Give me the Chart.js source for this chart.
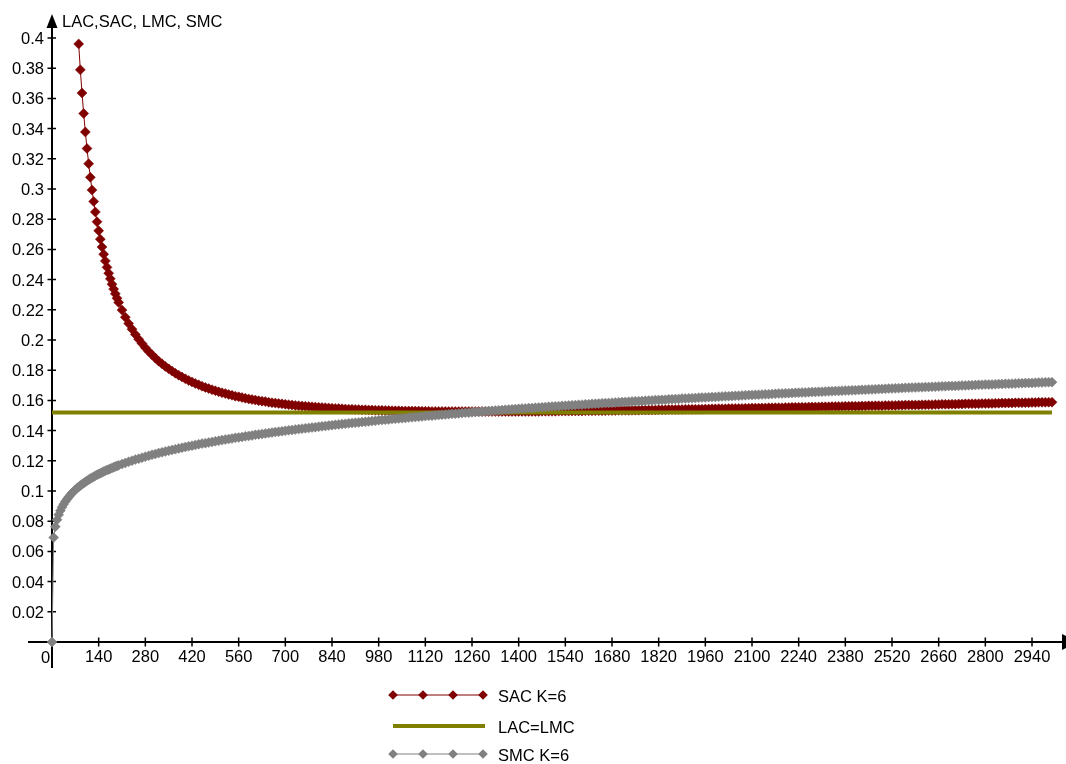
<!DOCTYPE html>
<html>
<head>
<meta charset="utf-8">
<script src="https://cdn.jsdelivr.net/npm/chart.js@4.4.1/dist/chart.umd.min.js"></script>
<style>
  html, body { margin: 0; padding: 0; background: #ffffff; }
  canvas { display: block; }
</style>
</head>
<body>
<canvas id="costChart" width="1066" height="764"></canvas>
<script>
// Output levels (Q) shared by the short-run curves
const output = [
  0,5,10,15,20,25,30,35,40,45,
  50,55,60,65,70,75,80,85,90,95,
  100,105,110,115,120,125,130,135,140,145,
  150,155,160,165,170,175,180,185,190,195,
  200,
  210,220,230,240,250,260,270,280,290,300,
  310,320,330,340,350,360,370,380,390,400,
  410,420,430,440,450,460,470,480,490,500,
  510,520,530,540,550,560,570,580,590,600,
  610,620,630,640,650,660,670,680,690,700,
  710,720,730,740,750,760,770,780,790,800,
  810,820,830,840,850,860,870,880,890,900,
  910,920,930,940,950,960,970,980,990,1000,
  1010,1020,1030,1040,1050,1060,1070,1080,1090,1100,
  1110,1120,1130,1140,1150,1160,1170,1180,1190,1200,
  1210,1220,1230,1240,1250,1260,1270,1280,1290,1300,
  1310,1320,1330,1340,1350,1360,1370,1380,1390,1400,
  1410,1420,1430,1440,1450,1460,1470,1480,1490,1500,
  1510,1520,1530,1540,1550,1560,1570,1580,1590,1600,
  1610,1620,1630,1640,1650,1660,1670,1680,1690,1700,
  1710,1720,1730,1740,1750,1760,1770,1780,1790,1800,
  1810,1820,1830,1840,1850,1860,1870,1880,1890,1900,
  1910,1920,1930,1940,1950,1960,1970,1980,1990,2000,
  2010,2020,2030,2040,2050,2060,2070,2080,2090,2100,
  2110,2120,2130,2140,2150,2160,2170,2180,2190,2200,
  2210,2220,2230,2240,2250,2260,2270,2280,2290,2300,
  2310,2320,2330,2340,2350,2360,2370,2380,2390,2400,
  2410,2420,2430,2440,2450,2460,2470,2480,2490,2500,
  2510,2520,2530,2540,2550,2560,2570,2580,2590,2600,
  2610,2620,2630,2640,2650,2660,2670,2680,2690,2700,
  2710,2720,2730,2740,2750,2760,2770,2780,2790,2800,
  2810,2820,2830,2840,2850,2860,2870,2880,2890,2900,
  2910,2920,2930,2940,2950,2960,2970,2980,2990,3000
];

// Short-run average cost with K=6 (no point below Q=80, it lies above the plot)
const sacK6 = [
  null,null,null,null,null,null,null,null,null,null,
  null,null,null,null,null,null,0.3961,0.3789,0.3636,0.3500,
  0.3378,0.3268,0.3168,0.3077,0.2994,0.2918,0.2848,0.2783,0.2724,0.2668,
  0.2616,0.2568,0.2524,0.2481,0.2442,0.2405,0.2370,0.2337,0.2306,0.2277,
  0.2249,
  0.2198,0.2151,0.2109,0.2072,0.2037,0.2005,0.1976,0.1949,0.1924,0.1902,
  0.1880,0.1860,0.1842,0.1825,0.1809,0.1794,0.1780,0.1767,0.1755,0.1743,
  0.1732,0.1722,0.1712,0.1703,0.1694,0.1686,0.1678,0.1671,0.1664,0.1657,
  0.1651,0.1645,0.1639,0.1634,0.1628,0.1624,0.1619,0.1614,0.1610,0.1606,
  0.1602,0.1598,0.1595,0.1592,0.1588,0.1585,0.1582,0.1580,0.1577,0.1574,
  0.1572,0.1570,0.1567,0.1565,0.1563,0.1561,0.1559,0.1558,0.1556,0.1554,
  0.1553,0.1551,0.1550,0.1548,0.1547,0.1546,0.1545,0.1543,0.1542,0.1541,
  0.1540,0.1539,0.1538,0.1538,0.1537,0.1536,0.1535,0.1535,0.1534,0.1533,
  0.1533,0.1532,0.1531,0.1531,0.1530,0.1530,0.1530,0.1529,0.1529,0.1529,
  0.1528,0.1528,0.1528,0.1527,0.1527,0.1527,0.1527,0.1527,0.1526,0.1526,
  0.1526,0.1526,0.1526,0.1526,0.1526,0.1526,0.1526,0.1526,0.1526,0.1526,
  0.1526,0.1526,0.1526,0.1526,0.1526,0.1526,0.1526,0.1526,0.1526,0.1527,
  0.1527,0.1527,0.1527,0.1527,0.1527,0.1527,0.1528,0.1528,0.1528,0.1528,
  0.1528,0.1529,0.1529,0.1529,0.1529,0.1530,0.1530,0.1530,0.1530,0.1531,
  0.1531,0.1531,0.1531,0.1532,0.1532,0.1532,0.1533,0.1533,0.1533,0.1534,
  0.1534,0.1534,0.1534,0.1535,0.1535,0.1535,0.1536,0.1536,0.1536,0.1537,
  0.1537,0.1538,0.1538,0.1538,0.1539,0.1539,0.1539,0.1540,0.1540,0.1541,
  0.1541,0.1541,0.1542,0.1542,0.1542,0.1543,0.1543,0.1544,0.1544,0.1545,
  0.1545,0.1545,0.1546,0.1546,0.1547,0.1547,0.1547,0.1548,0.1548,0.1549,
  0.1549,0.1549,0.1550,0.1550,0.1551,0.1551,0.1552,0.1552,0.1552,0.1553,
  0.1553,0.1554,0.1554,0.1555,0.1555,0.1555,0.1556,0.1556,0.1557,0.1557,
  0.1558,0.1558,0.1558,0.1559,0.1559,0.1560,0.1560,0.1561,0.1561,0.1562,
  0.1562,0.1562,0.1563,0.1563,0.1564,0.1564,0.1565,0.1565,0.1565,0.1566,
  0.1566,0.1567,0.1567,0.1568,0.1568,0.1569,0.1569,0.1570,0.1570,0.1570,
  0.1571,0.1571,0.1572,0.1572,0.1573,0.1573,0.1574,0.1574,0.1574,0.1575,
  0.1575,0.1576,0.1576,0.1577,0.1577,0.1578,0.1578,0.1578,0.1579,0.1579,
  0.1580,0.1580,0.1581,0.1581,0.1582,0.1582,0.1583,0.1583,0.1584,0.1584,
  0.1584,0.1585,0.1585,0.1586,0.1586,0.1587,0.1587,0.1587,0.1588,0.1588
];

// Short-run marginal cost with K=6
const smcK6 = [
  0,0.0692,0.0764,0.0809,0.0843,0.0870,0.0893,0.0913,0.0930,0.0946,
  0.0960,0.0974,0.0986,0.0997,0.1008,0.1018,0.1027,0.1036,0.1044,0.1052,
  0.1060,0.1068,0.1075,0.1082,0.1088,0.1094,0.1101,0.1107,0.1112,0.1118,
  0.1123,0.1129,0.1134,0.1139,0.1143,0.1148,0.1153,0.1157,0.1162,0.1166,
  0.1170,
  0.1178,0.1186,0.1194,0.1201,0.1208,0.1214,0.1221,0.1227,0.1233,0.1240,
  0.1245,0.1251,0.1256,0.1262,0.1267,0.1272,0.1277,0.1282,0.1287,0.1292,
  0.1296,0.1300,0.1305,0.1309,0.1314,0.1317,0.1321,0.1325,0.1329,0.1333,
  0.1337,0.1341,0.1344,0.1348,0.1352,0.1355,0.1358,0.1362,0.1365,0.1368,
  0.1372,0.1375,0.1378,0.1381,0.1384,0.1387,0.1390,0.1393,0.1396,0.1399,
  0.1402,0.1404,0.1407,0.1410,0.1413,0.1415,0.1418,0.1421,0.1423,0.1426,
  0.1428,0.1431,0.1433,0.1436,0.1438,0.1441,0.1443,0.1445,0.1448,0.1450,
  0.1452,0.1454,0.1457,0.1459,0.1461,0.1463,0.1465,0.1468,0.1470,0.1472,
  0.1474,0.1476,0.1478,0.1480,0.1482,0.1484,0.1486,0.1488,0.1490,0.1492,
  0.1494,0.1496,0.1498,0.1499,0.1501,0.1503,0.1505,0.1507,0.1509,0.1511,
  0.1512,0.1514,0.1516,0.1518,0.1519,0.1521,0.1523,0.1524,0.1526,0.1528,
  0.1530,0.1531,0.1533,0.1534,0.1536,0.1538,0.1539,0.1541,0.1543,0.1544,
  0.1546,0.1547,0.1549,0.1550,0.1552,0.1553,0.1555,0.1556,0.1558,0.1559,
  0.1561,0.1562,0.1564,0.1565,0.1567,0.1568,0.1569,0.1571,0.1572,0.1574,
  0.1575,0.1577,0.1578,0.1579,0.1581,0.1582,0.1583,0.1585,0.1586,0.1587,
  0.1589,0.1590,0.1591,0.1593,0.1594,0.1595,0.1596,0.1598,0.1599,0.1600,
  0.1602,0.1603,0.1604,0.1605,0.1607,0.1608,0.1609,0.1610,0.1612,0.1613,
  0.1614,0.1615,0.1616,0.1618,0.1619,0.1620,0.1621,0.1622,0.1623,0.1625,
  0.1626,0.1627,0.1628,0.1629,0.1630,0.1631,0.1633,0.1634,0.1635,0.1636,
  0.1637,0.1638,0.1639,0.1640,0.1641,0.1643,0.1644,0.1645,0.1646,0.1647,
  0.1648,0.1649,0.1650,0.1651,0.1652,0.1653,0.1654,0.1655,0.1656,0.1657,
  0.1658,0.1659,0.1660,0.1661,0.1662,0.1663,0.1664,0.1665,0.1666,0.1667,
  0.1668,0.1669,0.1670,0.1671,0.1672,0.1673,0.1674,0.1675,0.1676,0.1677,
  0.1678,0.1679,0.1680,0.1681,0.1682,0.1683,0.1684,0.1685,0.1686,0.1687,
  0.1687,0.1688,0.1689,0.1690,0.1691,0.1692,0.1693,0.1694,0.1695,0.1696,
  0.1696,0.1697,0.1698,0.1699,0.1700,0.1701,0.1702,0.1703,0.1704,0.1705,
  0.1705,0.1706,0.1707,0.1708,0.1709,0.1710,0.1710,0.1711,0.1712,0.1713,
  0.1714,0.1715,0.1716,0.1716,0.1717,0.1718,0.1719,0.1720,0.1721,0.1721
];

// Long-run average = long-run marginal cost (constant)
const lacOutput = [0, 3000];
const lacLmc = [0.152, 0.152];

// Axis ticks
const xTickValues = [140,280,420,560,700,840,980,1120,1260,1400,1540,1680,1820,1960,2100,2240,2380,2520,2660,2800,2940];
const yTickValues = [0.02,0.04,0.06,0.08,0.1,0.12,0.14,0.16,0.18,0.2,0.22,0.24,0.26,0.28,0.3,0.32,0.34,0.36,0.38,0.4];

const seriesNames = ['SAC K=6', 'LAC=LMC', 'SMC K=6'];
const axisTitle = 'LAC,SAC, LMC, SMC';

const FONT = '"Liberation Sans", Arial, sans-serif';
const FONT_SIZE = 16.5;
const SAC_COLOR = '#800000';
const LAC_COLOR = '#808000';
const SMC_COLOR = '#808080';
const MARKER_RADIUS = 5;

function toPoints(xs, ys) {
  return xs.map((q, i) => ({ x: q, y: ys[i] }));
}

function diamond(ctx, cx, cy, r) {
  ctx.beginPath();
  ctx.moveTo(cx - r, cy);
  ctx.lineTo(cx, cy - r);
  ctx.lineTo(cx + r, cy);
  ctx.lineTo(cx, cy + r);
  ctx.closePath();
  ctx.fill();
}

// Axis lines with crossing tick marks and arrow heads, plus the legend below
const axesAndLegend = {
  id: 'axesAndLegend',
  beforeDatasetsDraw(chart) {
    const { ctx } = chart;
    const xs = chart.scales.x, ys = chart.scales.y;
    const x0 = xs.getPixelForValue(0);
    const y0 = ys.getPixelForValue(0);
    ctx.save();
    ctx.strokeStyle = '#000';
    ctx.fillStyle = '#000';
    ctx.lineWidth = 2;
    ctx.beginPath();
    ctx.moveTo(x0, 26);
    ctx.lineTo(x0, 668);
    ctx.moveTo(28, y0);
    ctx.lineTo(1066, y0);
    ctx.stroke();

    ctx.lineWidth = 1.5;
    ctx.beginPath();
    yTickValues.forEach(v => {
      const py = ys.getPixelForValue(v);
      ctx.moveTo(x0 - 4.5, py);
      ctx.lineTo(x0 + 4, py);
    });
    xTickValues.forEach(v => {
      const px = xs.getPixelForValue(v);
      ctx.moveTo(px, y0 - 4.5);
      ctx.lineTo(px, y0 + 4.5);
    });
    ctx.stroke();

    // arrow on the vertical axis
    ctx.beginPath();
    ctx.moveTo(x0, 14);
    ctx.lineTo(x0 - 5.5, 28);
    ctx.lineTo(x0 + 5.5, 28);
    ctx.closePath();
    ctx.fill();
    // arrow on the horizontal axis (runs off the right edge)
    ctx.beginPath();
    ctx.moveTo(1062, y0 - 8);
    ctx.lineTo(1078, y0);
    ctx.lineTo(1062, y0 + 8);
    ctx.closePath();
    ctx.fill();

    ctx.font = FONT_SIZE + 'px ' + FONT;
    ctx.fillStyle = '#000';
    ctx.textBaseline = 'middle';
    ctx.textAlign = 'left';
    ctx.fillText(axisTitle, 62, 22);
    ctx.textAlign = 'center';
    ctx.fillText('0', x0 - 6.5, y0 + 16);
    ctx.restore();
  },
  afterDraw(chart) {
    const { ctx } = chart;
    ctx.save();
    const rows = [
      { y: 695, color: SAC_COLOR, markers: true, width: 1 },
      { y: 726, color: LAC_COLOR, markers: false, width: 4 },
      { y: 754, color: SMC_COLOR, markers: true, width: 1 }
    ];
    rows.forEach((row, i) => {
      ctx.strokeStyle = row.color;
      ctx.fillStyle = row.color;
      ctx.lineWidth = row.width;
      ctx.beginPath();
      ctx.moveTo(393, row.y);
      ctx.lineTo(row.markers ? 483 : 485, row.y);
      ctx.stroke();
      if (row.markers) {
        [393, 423, 453, 483].forEach(px => diamond(ctx, px, row.y, 4.8));
      }
      ctx.fillStyle = '#000';
      ctx.font = FONT_SIZE + 'px ' + FONT;
      ctx.textAlign = 'left';
      ctx.textBaseline = 'middle';
      ctx.fillText(seriesNames[i], 498, row.y + 2);
    });
    ctx.restore();
  }
};

const ctx = document.getElementById('costChart').getContext('2d');
new Chart(ctx, {
  type: 'line',
  data: {
    datasets: [
      {
        label: seriesNames[2],
        data: toPoints(output, smcK6),
        borderColor: SMC_COLOR,
        borderWidth: 1,
        pointStyle: 'rectRot',
        pointRadius: MARKER_RADIUS,
        pointBorderWidth: 0.5,
        pointBackgroundColor: SMC_COLOR,
        pointBorderColor: SMC_COLOR,
        tension: 0,
        clip: false
      },
      {
        label: seriesNames[1],
        data: toPoints(lacOutput, lacLmc),
        borderColor: LAC_COLOR,
        borderWidth: 4,
        pointRadius: 0,
        tension: 0,
        clip: false
      },
      {
        label: seriesNames[0],
        data: toPoints(output, sacK6),
        borderColor: SAC_COLOR,
        borderWidth: 1,
        pointStyle: 'rectRot',
        pointRadius: MARKER_RADIUS,
        pointBorderWidth: 0.5,
        pointBackgroundColor: SAC_COLOR,
        pointBorderColor: SAC_COLOR,
        tension: 0,
        spanGaps: false,
        clip: false
      }
    ]
  },
  options: {
    responsive: false,
    animation: false,
    devicePixelRatio: 1,
    events: [],
    layout: { padding: { left: 0, top: 38, right: 14, bottom: 82 } },
    plugins: {
      legend: { display: false },
      tooltip: { enabled: false },
      title: { display: false }
    },
    scales: {
      x: {
        type: 'linear',
        min: 0,
        max: 3000,
        grid: { display: false, drawTicks: false },
        border: { display: false },
        afterBuildTicks: s => { s.ticks = xTickValues.map(v => ({ value: v })); },
        afterFit: s => { s.height = 40; },
        ticks: {
          color: '#000',
          padding: 6,
          maxRotation: 0,
          autoSkip: false,
          font: { family: FONT, size: FONT_SIZE },
          callback: v => String(v)
        }
      },
      y: {
        type: 'linear',
        min: 0,
        max: 0.4,
        grid: { display: false, drawTicks: false },
        border: { display: false },
        afterBuildTicks: s => { s.ticks = yTickValues.map(v => ({ value: v })); },
        afterFit: s => { s.width = 52; },
        ticks: {
          color: '#000',
          padding: 8,
          labelOffset: 1.5,
          autoSkip: false,
          font: { family: FONT, size: FONT_SIZE },
          callback: v => String(Number(v.toFixed(2)))
        }
      }
    }
  },
  plugins: [axesAndLegend]
});
</script>
</body>
</html>
